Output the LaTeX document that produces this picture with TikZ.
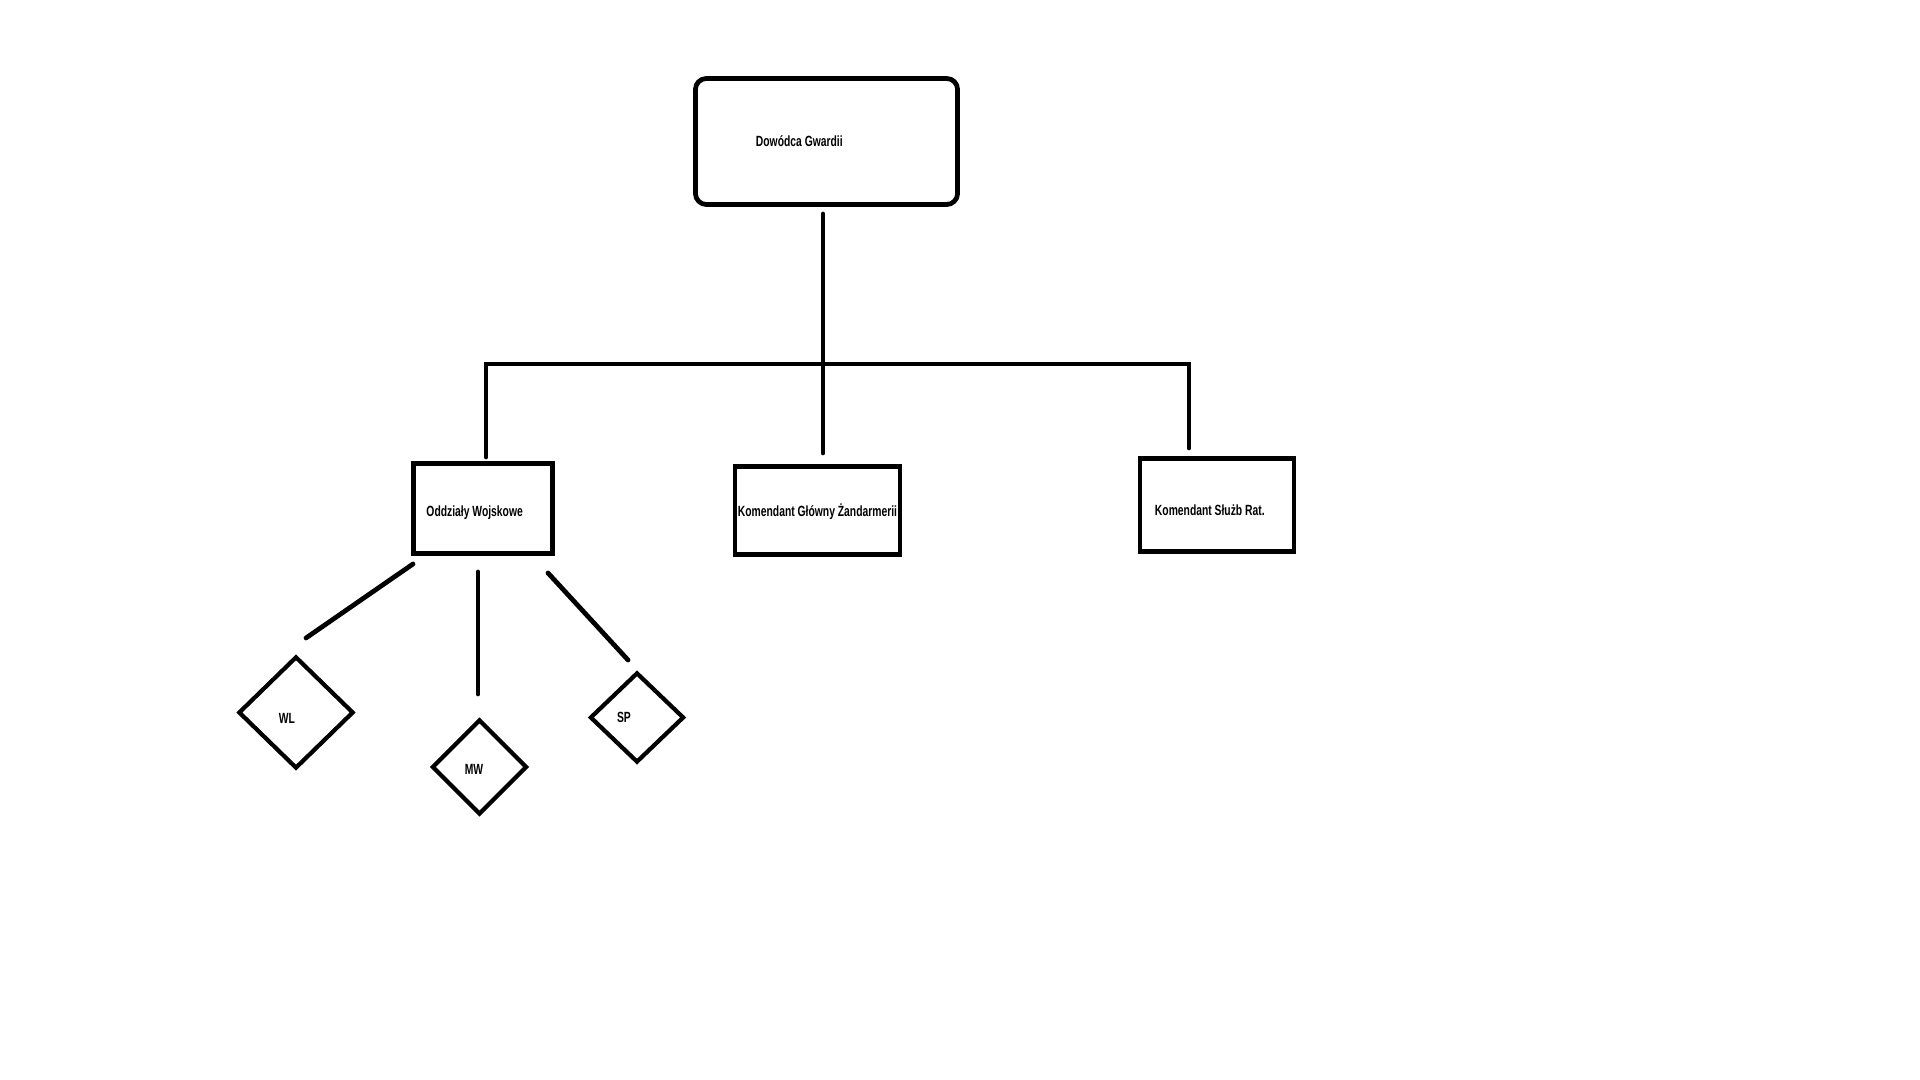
\documentclass[tikz,border=0pt]{standalone}
\usepackage{fontspec}
\usepackage{tikz}
\newfontfamily\orgfont[FakeStretch=0.7]{Liberation Sans}
\usetikzlibrary{shapes.geometric}
\tikzset{
    unit/.style={draw, line width=1.35pt, inner ysep=0pt, align=flush left, font=\orgfont\bfseries\fontsize{4.2}{5}\selectfont},
    post/.style={diamond, draw, line width=1.2pt, inner sep=0pt, font=\orgfont\bfseries\fontsize{4.2}{5}\selectfont},
    link/.style={line width=1.35pt, line cap=round}
}

\begin{document}
\begin{tikzpicture}[x=0.01cm, y=-0.01cm]
        \useasboundingbox (0,0) rectangle (1920,1080);

        \node[unit, rounded corners=1.1mm, minimum width=26.2mm, minimum height=12.6mm, inner xsep=6.0mm, text width=14.1mm] (dg) at (826.5,141.5) {Dowódca Gwardii};
        \node[unit, minimum width=13.9mm, minimum height=9.0mm, inner xsep=1.3mm, text width=11.3mm, text height=2.0mm] (ow) at (483,508.5) {Oddziały Wojskowe};
        \node[unit, align=center, inner xsep=0pt, minimum width=16.5mm, minimum height=8.8mm, text height=1.6mm] (kgz) at (817.5,510.5) {Komendant Główny Żandarmerii};
        \node[unit, minimum width=15.4mm, minimum height=9.3mm, inner xsep=1.5mm, text width=12.4mm, text height=2.2mm] (ksr) at (1217,505) {Komendant Służb Rat.};

        \node[post, minimum width=11.5mm, minimum height=11.2mm, text height=2.25mm] (wl) at (296,712.5) {WL\kern1.8mm};
        \node[post, minimum width=9.5mm,  minimum height=9.5mm, text height=1.45mm]  (mw) at (479.5,767) {MW\kern1.1mm};
        \node[post, minimum width=9.4mm,  minimum height=9.0mm]  (sp) at (637,717.5) {SP\kern2.6mm};

        \coordinate (dg-out)  at (823,214);
        \coordinate (kgz-in)  at (823,453);
        \coordinate (bar)     at (823,364);
        \coordinate (ow-in)   at (486,457);
        \coordinate (ksr-in)  at (1189,448);
        \coordinate (ow-wl)   at (413,564);
        \coordinate (wl-in)   at (306,638);
        \coordinate (ow-mw)   at (478,572);
        \coordinate (mw-in)   at (478,694);
        \coordinate (ow-sp)   at (548,573);
        \coordinate (sp-in)   at (628,660);

        \draw[link] (dg-out) -- (kgz-in);
        \draw[link] (ow-in) |- (bar) -| (ksr-in);

        \draw[link] (ow-wl) -- (wl-in);
        \draw[link] (ow-mw) -- (mw-in);
        \draw[link] (ow-sp) -- (sp-in);
    \end{tikzpicture}
\end{document}
